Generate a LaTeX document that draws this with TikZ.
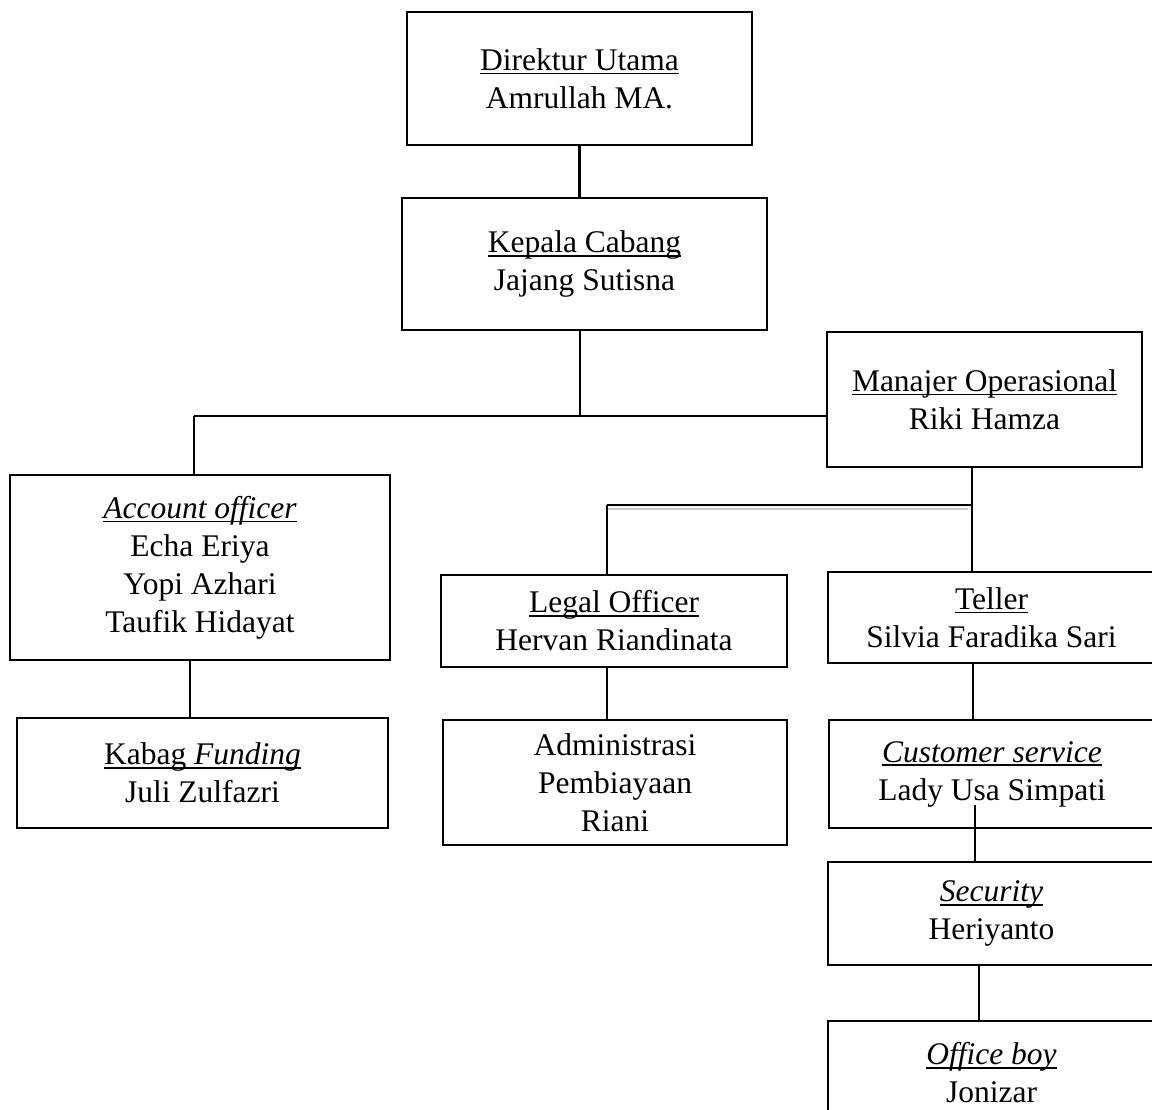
\documentclass[tikz,border=0pt]{standalone}
\usepackage{fontspec}
\setmainfont{Liberation Serif}
\newsavebox\myulbox
\newcommand\myul[1]{\sbox\myulbox{#1}\rlap{\rule[-4pt]{\wd\myulbox}{1.6pt}}\usebox\myulbox}
\begin{document}
\begin{tikzpicture}[x=1pt,y=-1pt,
  orgbox/.style={draw=black, line width=2.6pt, rectangle, align=center, inner sep=0pt,
    font=\fontsize{31.5}{38}\selectfont},
  link/.style={draw=black, line width=2.6pt},
  shade/.style={draw=black!20, line width=2.6pt}]
\useasboundingbox (0,0) rectangle (1152,1110);
\clip (0,0) rectangle (1152,1110);
% boxes
\node[orgbox, minimum width=345pt, minimum height=133pt] (dir) at (579.5,78.5) {\myul{Direktur Utama}\\Amrullah MA.};
\node[orgbox, minimum width=365pt, minimum height=132pt] (kep) at (584.5,264) {\myul{Kepala Cabang}\\Jajang Sutisna};
\node[orgbox, minimum width=315pt, minimum height=135pt] (man) at (984.5,399.5) {\myul{Manajer Operasional}\\Riki Hamza};
\node[orgbox, minimum width=380pt, minimum height=185pt] (acc) at (200,567.5) {\myul{\textit{Account officer}}\\Echa Eriya\\Yopi Azhari\\Taufik Hidayat};
\node[orgbox, minimum width=371pt, minimum height=110pt] (kab) at (202.5,773) {\myul{Kabag \textit{Funding}}\\Juli Zulfazri};
\node[orgbox, minimum width=346pt, minimum height=92pt] (leg) at (614,621) {\myul{Legal Officer}\\Hervan Riandinata};
\node[orgbox, minimum width=344pt, minimum height=125pt] (adm) at (615,782.5) {Administrasi\\Pembiayaan\\Riani};
\node[orgbox, minimum width=327pt, minimum height=91pt] (tel) at (991.5,617.5) {\myul{Teller}\\Silvia Faradika Sari};
\node[orgbox, minimum width=326pt, minimum height=108pt] (cs) at (992,774) {\myul{\textit{Customer service}}\\Lady Usa Simpati};
\node[orgbox, minimum width=327pt, minimum height=103pt] (sec) at (991.5,913.5) {\myul{\textit{Security}}\\Heriyanto};
\node[orgbox, minimum width=327pt, minimum height=104pt] (ob) at (991.5,1073) {\myul{\textit{Office boy}}\\Jonizar};
% junction coordinates
\coordinate (j1) at (580,416);
\coordinate (j1l) at (194,416);
\coordinate (j2) at (972,505);
\coordinate (j2l) at (607,505);
\coordinate (csin) at (975,805);
% connectors
\draw[link] (dir.south) -- (dir.south |- kep.north);
\draw[link] (kep.south -| j1) -- (j1);
\draw[link] (j1l) -- (j1l -| man.west);
\draw[link] (j1l) -- (j1l |- acc.north);
\draw[link] (190,660) coordinate (a1) -- (a1 |- kab.north);
\draw[shade] (607,509) -- (968,509);
\draw[link] (j2 |- man.south) -- (j2 |- tel.north);
\draw[link] (j2l) -- (j2);
\draw[link] (j2l) -- (j2l |- leg.north);
\draw[link] (j2l |- leg.south) -- (j2l |- adm.north);
\draw[link] (973,663) coordinate (t1) -- (t1 |- cs.north);
\draw[link] (csin) -- (csin |- sec.north);
\draw[link] (979,965) coordinate (s1) -- (s1 |- ob.north);
\end{tikzpicture}
\end{document}
